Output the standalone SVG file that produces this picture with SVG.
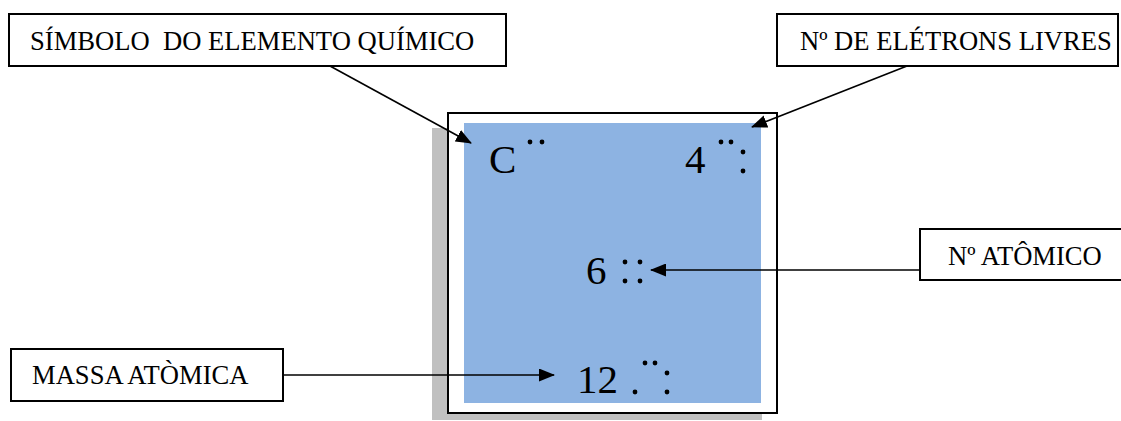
<svg xmlns="http://www.w3.org/2000/svg" width="1121" height="421" viewBox="0 0 1121 421">
<style>
.box{fill:#ffffff;stroke:#000000;stroke-width:2}
.lbl{font-family:"Liberation Serif","Times New Roman",serif;font-size:26.6px;fill:#000000}
.sym{font-family:"Liberation Serif","Times New Roman",serif;font-size:41px;fill:#000000}
.con{stroke:#000000;stroke-width:1.6;fill:none;marker-end:url(#ah)}
.dot{fill:#000000}
</style>
<defs>
<marker id="ah" viewBox="0 0 16 13" refX="15" refY="6.5" markerUnits="userSpaceOnUse" markerWidth="16" markerHeight="13" orient="auto">
<path d="M0,0 L16,6.5 L0,13 Z" fill="#000000"/>
</marker>
</defs>
<rect width="1121" height="421" fill="#ffffff"/>
<g id="element-card">
<rect x="432" y="128" width="330" height="292" fill="#c0c0c0"/>
<rect x="448" y="113" width="329" height="300" class="box"/>
<rect x="464" y="123" width="297" height="280" fill="#8db3e2"/>
</g>
<g id="symbol-C">
<text x="489" y="173" class="sym">C</text>
<circle cx="530" cy="142" r="2.4" class="dot"/><circle cx="542" cy="142" r="2.4" class="dot"/>
</g>
<g id="free-electrons-4">
<text x="685" y="173" class="sym">4</text>
<circle cx="721" cy="142" r="2.4" class="dot"/><circle cx="731" cy="142" r="2.4" class="dot"/>
<circle cx="743" cy="152" r="2.4" class="dot"/><circle cx="743" cy="171" r="2.4" class="dot"/>
</g>
<g id="atomic-number-6">
<text x="586" y="284" class="sym">6</text>
<circle cx="625" cy="262" r="2.4" class="dot"/><circle cx="625" cy="281" r="2.4" class="dot"/>
<circle cx="640" cy="262" r="2.4" class="dot"/><circle cx="640" cy="281" r="2.4" class="dot"/>
</g>
<g id="atomic-mass-12">
<text x="577" y="393" class="sym">12</text>
<circle cx="635" cy="392" r="2.4" class="dot"/>
<circle cx="645" cy="363" r="2.4" class="dot"/><circle cx="655" cy="363" r="2.4" class="dot"/>
<circle cx="667" cy="373" r="2.4" class="dot"/><circle cx="667" cy="392" r="2.4" class="dot"/>
</g>
<g id="label-simbolo">
<rect x="9" y="14" width="497" height="52" class="box"/>
<text x="30" y="50" class="lbl" xml:space="preserve">SÍMBOLO  DO ELEMENTO QUÍMICO</text>
</g>
<g id="label-eletrons">
<rect x="777" y="14" width="341" height="52" class="box"/>
<text x="800" y="50" class="lbl">Nº DE ELÉTRONS LIVRES</text>
</g>
<g id="label-atomico">
<rect x="920" y="229" width="202" height="51" class="box"/>
<text x="948" y="265" class="lbl">Nº ATÔMICO</text>
</g>
<g id="label-massa">
<rect x="11" y="349" width="272" height="52" class="box"/>
<text x="32" y="384" class="lbl">MASSA ATÒMICA</text>
</g>
<g id="connectors">
<line x1="330" y1="66" x2="471" y2="143" class="con"/>
<line x1="907" y1="66" x2="752" y2="127" class="con"/>
<line x1="920" y1="270" x2="651" y2="270" class="con"/>
<line x1="283" y1="375" x2="554" y2="375" class="con"/>
</g>
</svg>
